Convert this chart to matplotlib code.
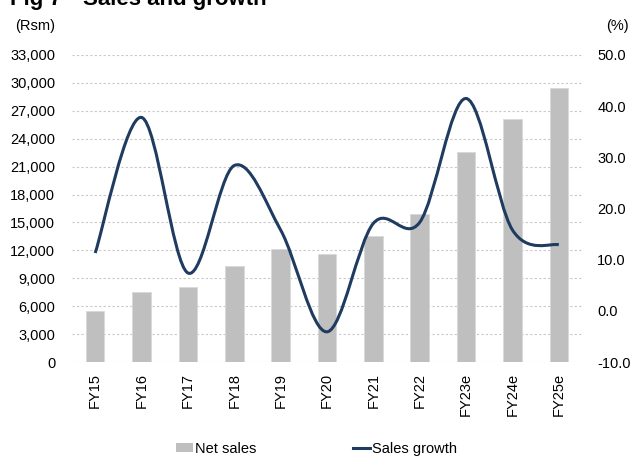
import numpy as np
import matplotlib.pyplot as plt
from matplotlib.path import Path
from matplotlib.patches import PathPatch
from matplotlib.lines import Line2D
from matplotlib.patches import Patch

plt.rcParams['font.family'] = ['Liberation Sans', 'DejaVu Sans']

years = ['FY15', 'FY16', 'FY17', 'FY18', 'FY19', 'FY20', 'FY21', 'FY22',
         'FY23e', 'FY24e', 'FY25e']
net_sales = [5450, 7500, 8100, 10300, 12100, 11600, 13550, 15950, 22550, 26150, 29500]
growth = [11.3, 37.8, 7.4, 28.4, 15.8, -4.1, 17.1, 17.3, 41.5, 15.8, 12.9]

bar_color = '#BFBFBF'
line_color = '#1F3B60'
fs = 10.5

fig = plt.figure(figsize=(6.33, 4.58), dpi=100)
ax = fig.add_axes([72 / 633, 1 - 362 / 458, 510 / 633, 307 / 458])
ax2 = ax.twinx()

x = np.arange(len(years))
ax.bar(x, net_sales, width=0.4, color=bar_color, edgecolor='#D9D9D9', linewidth=0.6, zorder=2)
ax.set_xlim(-0.5, len(years) - 0.5)
ax.set_ylim(0, 33000)
ax.set_yticks(np.arange(0, 33001, 3000))
ax.set_yticklabels([f'{v:,}' for v in range(0, 33001, 3000)], fontsize=fs)
ax.set_xticks(x)
ax.set_xticklabels(years, rotation=90, fontsize=fs)
ax.yaxis.grid(True, color='#C8C8C8', linestyle=(0, (2, 2)), linewidth=0.8, zorder=0)
ax.set_axisbelow(True)
ax.tick_params(axis='both', length=0)
ax.tick_params(axis='y', pad=12)
ax.tick_params(axis='x', pad=8)

# smoothed line (Catmull-Rom as cubic Bezier segments)
pts = np.column_stack([x, growth]).astype(float)
ext = np.vstack([pts[0], pts, pts[-1]])
verts = [tuple(pts[0])]
codes = [Path.MOVETO]
for i in range(len(pts) - 1):
    p0, p1, p2, p3 = ext[i], ext[i + 1], ext[i + 2], ext[i + 3]
    c1 = p1 + (p2 - p0) / 6
    c2 = p2 - (p3 - p1) / 6
    verts += [tuple(c1), tuple(c2), tuple(p2)]
    codes += [Path.CURVE4] * 3
ax2.add_patch(PathPatch(Path(verts, codes), facecolor='none', edgecolor=line_color,
                        linewidth=2.2, capstyle='butt', zorder=3))
ax2.set_ylim(-10, 50)
ax2.set_yticks(np.arange(-10, 51, 10))
ax2.set_yticklabels([f'{v:.1f}' for v in range(-10, 51, 10)], fontsize=fs)
ax2.tick_params(axis='y', length=0, pad=11)

for a in (ax, ax2):
    for s in a.spines.values():
        s.set_visible(False)

fig.text(10 / 633, 1 - 5 / 458, 'Fig 7', fontsize=16, fontweight='bold', va='baseline', ha='left')
fig.text(83 / 633, 1 - 5 / 458, 'Sales and growth', fontsize=16, fontweight='bold', va='baseline', ha='left')
fig.text(55 / 633, 1 - 26 / 458, '(Rsm)', fontsize=fs, ha='right', va='center')
fig.text(629 / 633, 1 - 26 / 458, '(%)', fontsize=fs, ha='right', va='center')

handles = [Patch(facecolor=bar_color, edgecolor='none'),
           Line2D([], [], color=line_color, linewidth=2.2)]
fig.legend(handles, ['Net sales', 'Sales growth'], loc='center', bbox_to_anchor=(0.5, 1 - 449 / 458),
           ncol=2, frameon=False, fontsize=fs, handlelength=1.2, handletextpad=0.15,
           columnspacing=6.6, handleheight=0.6, borderpad=0, borderaxespad=0)

fig.savefig('out.png', dpi=100)
